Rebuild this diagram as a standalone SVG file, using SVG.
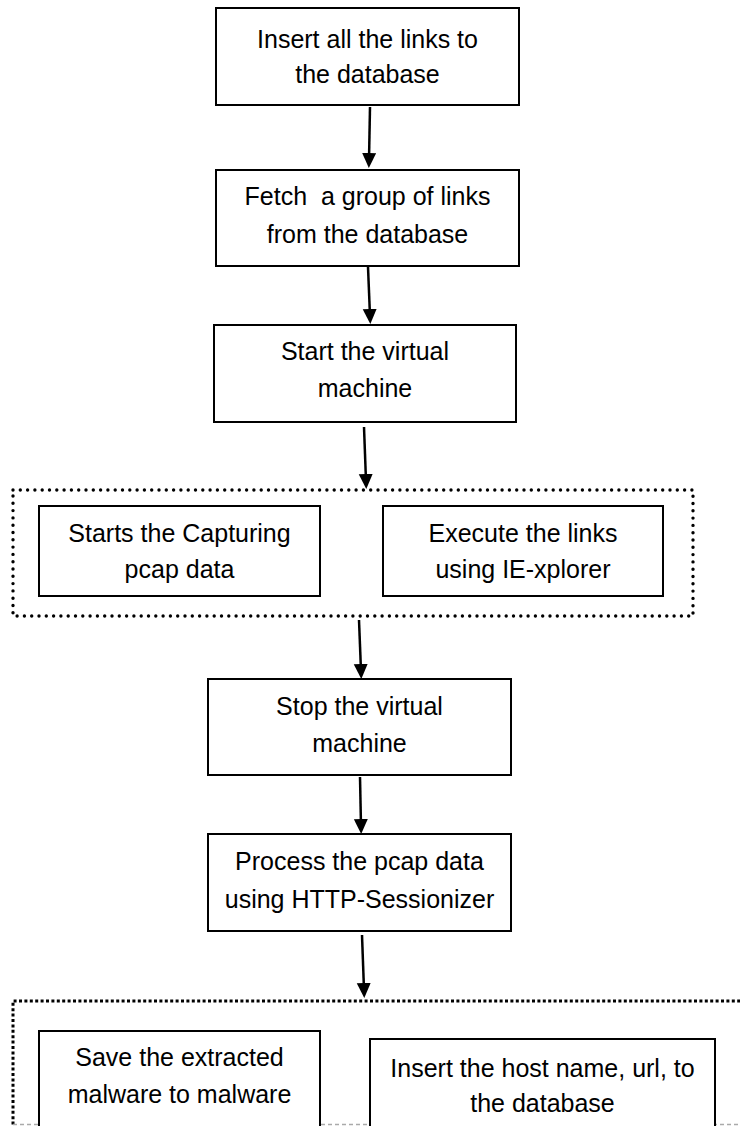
<svg xmlns="http://www.w3.org/2000/svg" width="740" height="1126" viewBox="0 0 740 1126">
  <defs>
    <marker id="arrow" markerUnits="userSpaceOnUse" markerWidth="16" markerHeight="15" refX="7" refY="7" orient="auto">
      <path d="M0,0 L15,7 L0,14 z" fill="#000"/>
    </marker>
    <style>
      .box { fill: #fff; stroke: #000; stroke-width: 2; }
      .grp1 { fill: none; stroke: #000; stroke-width: 3.4; stroke-dasharray: 0 7.3; stroke-linecap: round; }
      .grp2 { fill: none; stroke: #000; stroke-width: 3; stroke-dasharray: 3 2.4; }
      .edge { fill: none; stroke: #000; stroke-width: 2.5; marker-end: url(#arrow); }
      .lbl { font-family: "Liberation Sans", Arial, sans-serif; font-size: 25px; fill: #000; text-anchor: middle; }
      .crop { stroke: #aaa; stroke-width: 1.5; stroke-dasharray: 4 3; fill: none; }
    </style>
  </defs>
  <rect width="740" height="1126" fill="#fff"/>

  <!-- group containers -->
  <g id="group-capture">
    <rect class="grp1" x="13" y="490" width="680" height="126"/>
  </g>
  <g id="group-save">
    <path class="grp2" d="M13,1130 L13,1001 L760,1001"/>
  </g>
  <line class="crop" x1="13" y1="1124.5" x2="740" y2="1124.5"/>

  <g id="connectors">
    <path class="edge" d="M370,107 L369,160"/>
    <path class="edge" d="M368,267 L370,316"/>
    <path class="edge" d="M364,427 L366,481"/>
    <path class="edge" d="M359,620 L361,671"/>
    <path class="edge" d="M360,777 L361,826"/>
    <path class="edge" d="M362,935 L364,990"/>
  </g>

  <g id="n1">
    <rect class="box" x="216" y="8" width="303" height="97"/>
    <text class="lbl" x="367.5" y="48">Insert all the links to</text>
    <text class="lbl" x="367.5" y="83">the database</text>
  </g>
  <g id="n2">
    <rect class="box" x="216" y="170" width="303" height="96"/>
    <text class="lbl" x="367.5" y="205" xml:space="preserve">Fetch  a group of links</text>
    <text class="lbl" x="367.5" y="243">from the database</text>
  </g>
  <g id="n3">
    <rect class="box" x="214" y="325" width="302" height="97"/>
    <text class="lbl" x="365" y="360">Start the virtual</text>
    <text class="lbl" x="365" y="397">machine</text>
  </g>
  <g id="n4">
    <rect class="box" x="39" y="506" width="281" height="90"/>
    <text class="lbl" x="179.5" y="542">Starts the Capturing</text>
    <text class="lbl" x="179.5" y="578">pcap data</text>
  </g>
  <g id="n5">
    <rect class="box" x="383" y="506" width="280" height="90"/>
    <text class="lbl" x="523" y="542">Execute the links</text>
    <text class="lbl" x="523" y="578">using IE-xplorer</text>
  </g>
  <g id="n6">
    <rect class="box" x="208" y="679" width="303" height="96"/>
    <text class="lbl" x="359.5" y="715">Stop the virtual</text>
    <text class="lbl" x="359.5" y="752">machine</text>
  </g>
  <g id="n7">
    <rect class="box" x="208" y="834" width="303" height="97"/>
    <text class="lbl" x="359.5" y="870">Process the pcap data</text>
    <text class="lbl" x="359.5" y="908">using HTTP-Sessionizer</text>
  </g>
  <g id="n8">
    <rect class="box" x="39" y="1031" width="281" height="110"/>
    <text class="lbl" x="179.5" y="1066">Save the extracted</text>
    <text class="lbl" x="179.5" y="1103">malware to malware</text>
  </g>
  <g id="n9">
    <rect class="box" x="370" y="1039" width="345" height="110"/>
    <text class="lbl" x="542.5" y="1077">Insert the host name, url, to</text>
    <text class="lbl" x="542.5" y="1112">the database</text>
  </g>
</svg>
